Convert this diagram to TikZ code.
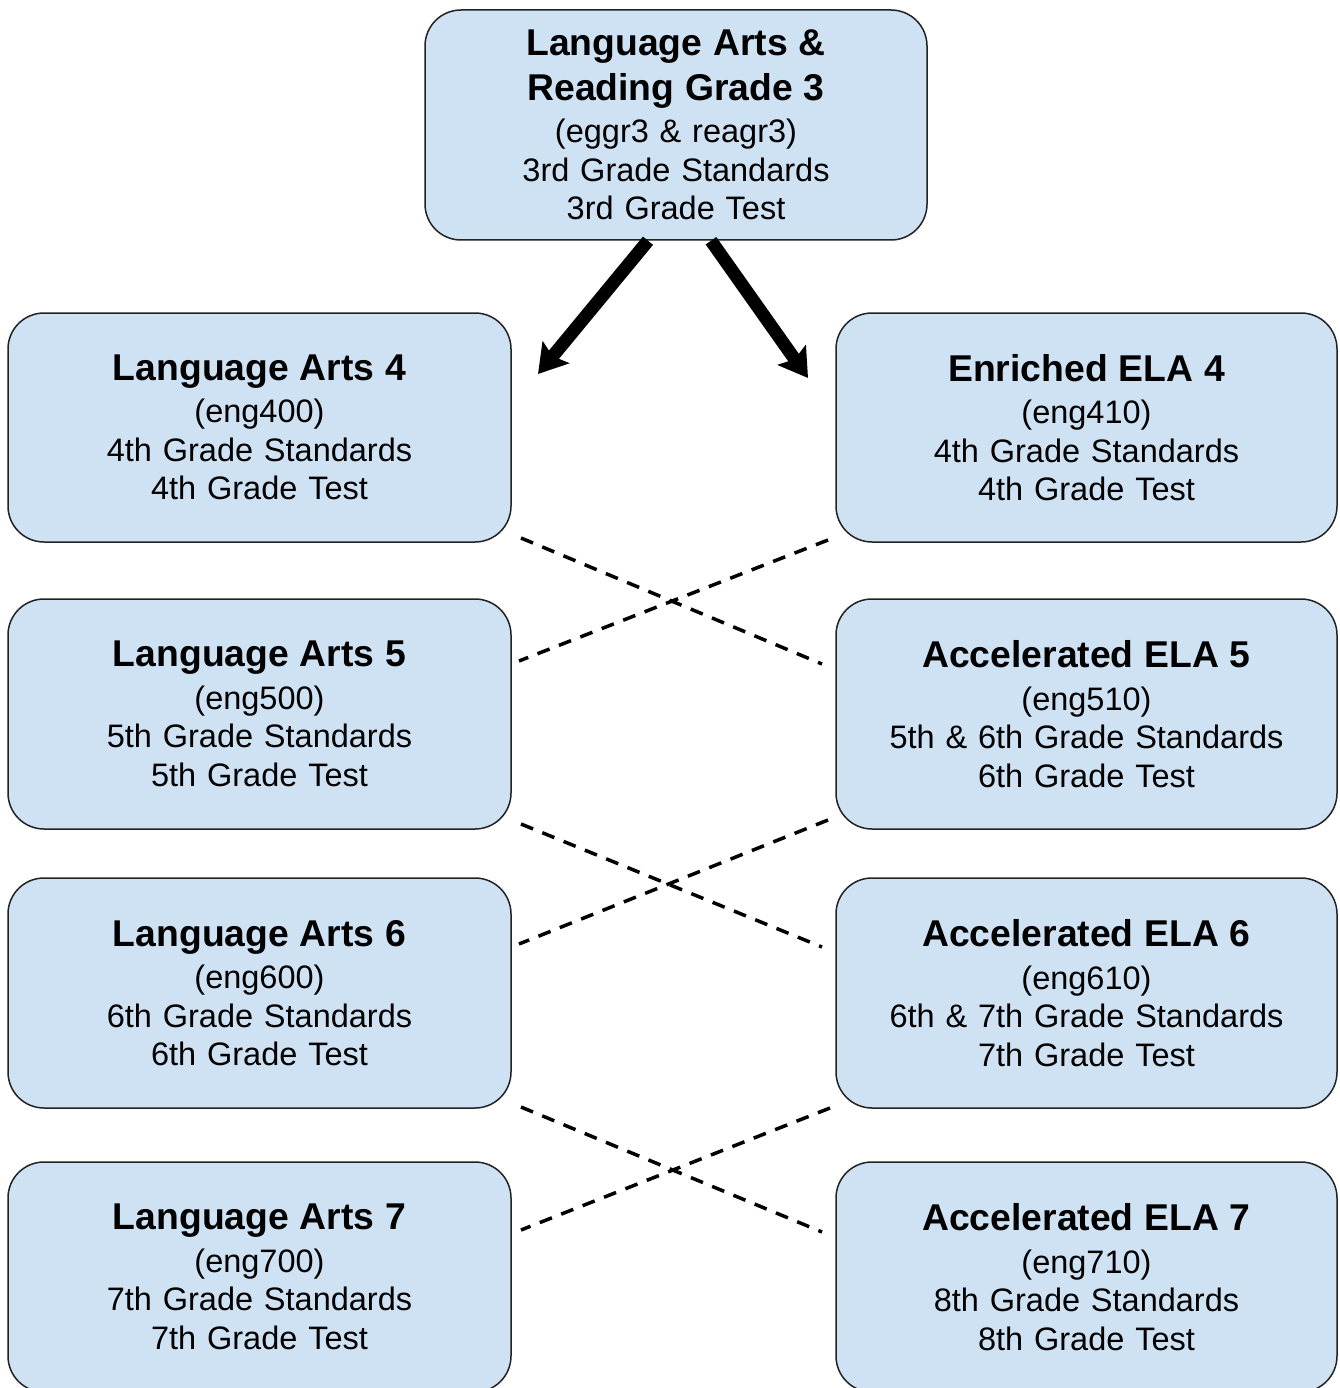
\documentclass[tikz,border=0pt]{standalone}
\usepackage{fontspec}
\setmainfont{Liberation Sans}
\usetikzlibrary{arrows.meta,calc}
\definecolor{boxfill}{HTML}{CFE2F3}
\definecolor{boxline}{HTML}{222222}
\newcommand{\ttl}[1]{{\bfseries\fontsize{37.3}{38.5}\selectfont #1}}
\begin{document}
\begin{tikzpicture}[x=1pt,y=-1pt,
  box/.style={draw=boxline,line width=1.5pt,fill=boxfill,rounded corners=36pt,
    inner sep=0pt,align=center,text width=#1,
    font=\fontsize{32.5}{38.5}\selectfont},
  box/.default=500pt,
  bigarrow/.style={line width=13pt,-{Stealth[length=28pt,width=34pt,inset=5pt]}},
  crossline/.style={line width=3.5pt,dash pattern=on 13pt off 10pt}]
\useasboundingbox (0,0) rectangle (1339,1388);
\clip (0,0) rectangle (1339,1388);
% boxes
\node[box, minimum width=502pt, minimum height=230pt] (top) at (676,125)
  {\ttl{Language Arts \&}\\[6.5pt]\ttl{Reading Grade 3}\\[4pt](eggr3 \& reagr3)\\3rd Grade Standards\\3rd Grade Test};
\node[box, minimum width=503pt, minimum height=229pt] (la4) at (259.5,427.5)
  {\ttl{Language Arts 4}\\[4pt](eng400)\\4th Grade Standards\\4th Grade Test};
\node[box, minimum width=501pt, minimum height=229pt] (en4) at (1086.5,427.5)
  {\ttl{Enriched ELA 4}\\[4pt](eng410)\\4th Grade Standards\\4th Grade Test};
\node[box, minimum width=503pt, minimum height=230pt] (la5) at (259.5,714)
  {\ttl{Language Arts 5}\\[4pt](eng500)\\5th Grade Standards\\5th Grade Test};
\node[box, minimum width=501pt, minimum height=230pt] (ac5) at (1086.5,714)
  {\ttl{Accelerated ELA 5}\\[4pt](eng510)\\5th \& 6th Grade Standards\\6th Grade Test};
\node[box, minimum width=503pt, minimum height=230pt] (la6) at (259.5,993)
  {\ttl{Language Arts 6}\\[4pt](eng600)\\6th Grade Standards\\6th Grade Test};
\node[box, minimum width=501pt, minimum height=230pt] (ac6) at (1086.5,993)
  {\ttl{Accelerated ELA 6}\\[4pt](eng610)\\6th \& 7th Grade Standards\\7th Grade Test};
\node[box, minimum width=503pt, minimum height=230pt] (la7) at (259.5,1277)
  {\ttl{Language Arts 7}\\[4pt](eng700)\\7th Grade Standards\\7th Grade Test};
\node[box, minimum width=501pt, minimum height=230pt] (ac7) at (1086.5,1277)
  {\ttl{Accelerated ELA 7}\\[4pt](eng710)\\8th Grade Standards\\8th Grade Test};
% arrow ends
\coordinate (aLs) at ($(top.south)+(-28,0)$);
\coordinate (aRs) at ($(top.south)+(35,0)$);
\coordinate (aLe) at (538,374);
\coordinate (aRe) at (808,378);
\draw[bigarrow] (aLs) -- (aLe);
\draw[bigarrow] (aRs) -- (aRe);
% crossing dashed lines
\coordinate (c1a) at (521,538);  \coordinate (c1b) at (822,664);
\coordinate (c1c) at (828,540);  \coordinate (c1d) at (519,661);
\coordinate (c2a) at (521,824);  \coordinate (c2b) at (822,947);
\coordinate (c2c) at (828,820);  \coordinate (c2d) at (519,944);
\coordinate (c3a) at (521,1107); \coordinate (c3b) at (822,1232);
\coordinate (c3c) at (830,1108); \coordinate (c3d) at (521,1230);
\draw[crossline] (c1a) -- (c1b);
\draw[crossline] (c1c) -- (c1d);
\draw[crossline] (c2a) -- (c2b);
\draw[crossline] (c2c) -- (c2d);
\draw[crossline] (c3a) -- (c3b);
\draw[crossline] (c3c) -- (c3d);
\end{tikzpicture}
\end{document}
